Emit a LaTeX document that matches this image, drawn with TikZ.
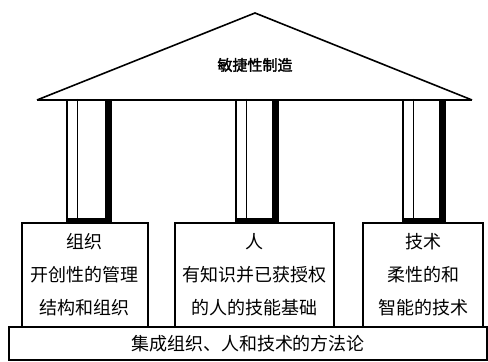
\documentclass[tikz,border=0pt]{standalone}
\usepackage{fontspec}
\newfontfamily\cjk{Noto Sans CJK SC}[AutoFakeBold=2]
\usetikzlibrary{positioning}

\begin{document}
\begin{tikzpicture}[
  x=0.5pt,y=-0.5pt,
  roof/.style={draw,line width=0.8pt,line join=miter},
  column/.style={draw,line width=1.1pt,minimum height=61.5pt,inner sep=0pt},
  shade/.style={fill=black},
  pillar/.style={draw,line width=0.9pt,align=center,minimum height=52pt,inner sep=0pt,font=\cjk\fontsize{9}{16.5}\selectfont},
  base/.style={draw,line width=0.9pt,minimum width=239pt,minimum height=16.5pt,inner sep=0pt,font=\cjk\fontsize{9}{11}\selectfont}
]
\useasboundingbox (0,0) rectangle (488,362);
% roof
\coordinate (eaveL) at (37,100);
\coordinate (eaveR) at (472,100);
\coordinate (apex) at (255,13);
\draw[roof] (eaveL) -- (apex) -- (eaveR);
\draw[line width=1.1pt] (eaveL) -- (eaveR);
\node[font=\cjk\bfseries\fontsize{7.5}{9}\selectfont] (goal) at (255,65) {敏捷性制造};
% columns
\foreach \name/\cx/\w in {col1/89/22pt,col2/257/21pt,col3/424/21pt}{
  \node[column,minimum width=\w] (\name) at (\cx,161.5) {};
  \draw[line width=0.7pt] ([xshift=5.8pt]\name.north west) -- ([xshift=5.8pt]\name.south west);
  \fill[shade] ([xshift=-3.5pt]\name.north east) rectangle (\name.south east);
  \fill[shade] ([xshift=1pt]\name.south west) rectangle ([yshift=3pt]\name.south east);
}
% three pillars
\node[pillar,minimum width=63pt] (org) at (85,275) {组织\\开创性的管理\\结构和组织};
\node[pillar,minimum width=79.5pt] (people) at (254.5,275) {人\\有知识并已获授权\\的人的技能基础};
\node[pillar,minimum width=60pt] (tech) at (423,275) {技术\\柔性的和\\智能的技术};
% foundation
\node[base] (method) at (248,343.5) {集成组织、人和技术的方法论};
\end{tikzpicture}
\end{document}
